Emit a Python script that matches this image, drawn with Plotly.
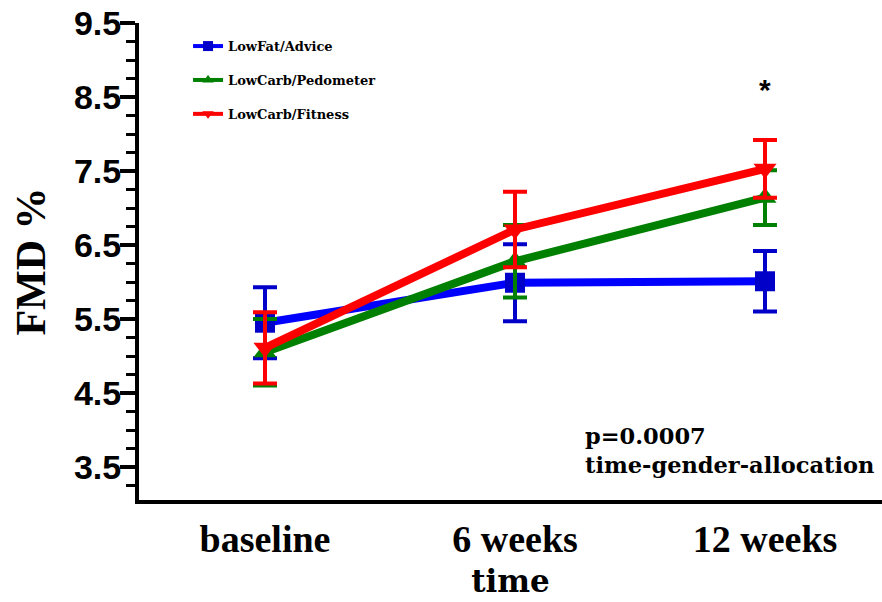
import plotly.graph_objects as go

categories = ["baseline", "6 weeks", "12 weeks"]

lowfat_mean = [5.45, 5.99, 6.01]
lowfat_err = [0.48, 0.52, 0.41]

pedo_mean = [5.05, 6.28, 7.14]
pedo_err = [0.45, 0.49, 0.37]

fit_mean = [5.11, 6.71, 7.53]
fit_err = [0.48, 0.51, 0.39]

series_names = ["LowFat/Advice", "LowCarb/Pedometer", "LowCarb/Fitness"]

y_ticks = [3.5, 4.5, 5.5, 6.5, 7.5, 8.5, 9.5]

star_y = 8.6

fig = go.Figure()

styles = [
    (lowfat_mean, lowfat_err, "#0000ff", "#0000c8", "square"),
    (pedo_mean, pedo_err, "#008000", "#008000", "triangle-up"),
    (fit_mean, fit_err, "#ff0000", "#ff0000", "triangle-down"),
]

for (mean, err, lc, mc, sym), name in zip(styles, series_names):
    fig.add_trace(go.Scatter(
        x=categories, y=mean, name=name, mode="lines+markers",
        line=dict(color=lc, width=8),
        marker=dict(color=mc, symbol=sym, size=20, line=dict(width=0)),
        error_y=dict(type="data", array=err, visible=True,
                     color=mc, thickness=4, width=12),
        showlegend=False,
    ))

for (mean, err, lc, mc, sym), name in zip(styles, series_names):
    fig.add_trace(go.Scatter(
        x=[None], y=[None], name=name, mode="lines+markers",
        line=dict(color=lc, width=4),
        marker=dict(color=mc, symbol=sym, size=10),
        legendgroup=name, showlegend=True,
    ))

fig.add_annotation(
    x=categories[2], y=star_y, text="<b>*</b>", showarrow=False,
    font=dict(family="Liberation Sans", size=30, color="black"),
)

fig.add_annotation(
    xref="paper", yref="paper", x=0.5976, y=0.103, xanchor="left", yanchor="middle",
    text="p=0.0007<br>time-gender-allocation", showarrow=False, align="left",
    font=dict(family="DejaVu Serif", size=22.5, color="black", weight="bold"),
)

fig.update_layout(
    width=882, height=602,
    margin=dict(l=139, r=0, t=23, b=102, autoexpand=False),
    paper_bgcolor="white", plot_bgcolor="white",
    legend=dict(
        x=0.066, y=0.983, xanchor="left", yanchor="top",
        traceorder="grouped", tracegroupgap=14,
        font=dict(family="DejaVu Serif", size=13, color="black", weight="bold"),
        bgcolor="rgba(0,0,0,0)", itemwidth=30,
    ),
    showlegend=True,
)

fig.update_xaxes(
    type="category", range=[-0.504, 2.468], automargin=False,
    showline=True, linecolor="black", linewidth=4,
    ticks="", showgrid=False, zeroline=False,
    tickfont=dict(family="Liberation Serif", size=38, color="black", weight="bold"),
    ticklabelstandoff=2,
    title=dict(text="time", standoff=13,
               font=dict(family="DejaVu Serif", size=31, color="black", weight="bold")),
)

fig.update_yaxes(
    range=[3.054, 9.5005], automargin=False,
    tickmode="array", tickvals=y_ticks, ticktext=[str(v) for v in y_ticks],
    showline=True, linecolor="black", linewidth=4,
    ticks="outside", ticklen=15, tickwidth=4, tickcolor="black",
    minor=dict(dtick=0.25, tick0=3.0, ticks="outside", ticklen=9, tickwidth=3, tickcolor="black"),
    showgrid=False, zeroline=False,
    tickfont=dict(family="Liberation Sans", size=34, color="black", weight="bold"),
    ticklabelstandoff=-8, ticklabeloverflow="allow",
    title=dict(text="FMD %", standoff=16,
               font=dict(family="Liberation Serif", size=42, color="black", weight="bold")),
)

fig.write_html(
    "out.html",
    config={"displayModeBar": False},
    post_script="document.body.style.margin='0';document.body.style.overflow='hidden';",
)
